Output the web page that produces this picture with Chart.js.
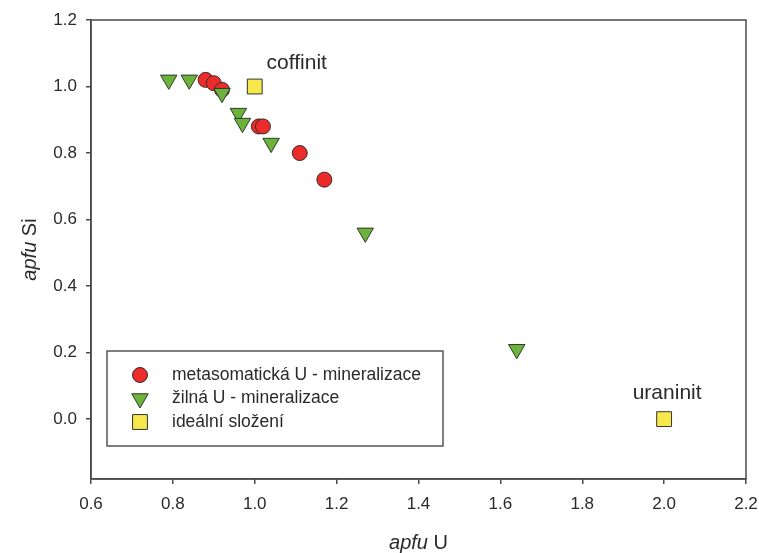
<!DOCTYPE html>
<html lang="cs">
<head>
    <meta charset="UTF-8">
    <title>apfu U vs apfu Si</title>
    <script src="https://cdn.jsdelivr.net/npm/chart.js"></script>
    <style>
        body { margin: 0; background: #fff; }
        #wrap { width: 759px; height: 553px; position: relative; }
    </style>
</head>
<body>
    <div id="wrap"><canvas id="scatterChart"></canvas></div>

    <script>
        // metasomatická U - mineralizace
        const metaU  = [0.88, 0.90, 0.92, 1.01, 1.02, 1.11, 1.17];
        const metaSi = [1.02, 1.01, 0.99, 0.88, 0.88, 0.80, 0.72];

        // žilná U - mineralizace
        const zilU  = [0.79, 0.84, 0.92, 0.96, 0.97, 1.04, 1.27, 1.64];
        const zilSi = [1.02, 1.02, 0.98, 0.92, 0.89, 0.83, 0.56, 0.21];

        // ideální složení
        const idealU     = [1.0, 2.0];
        const idealSi    = [1.0, 0.0];
        const idealNames = ['coffinit', 'uraninit'];

        const seriesNames = ['metasomatická U - mineralizace', 'žilná U - mineralizace', 'ideální složení'];

        const xTicks = [0.6, 0.8, 1.0, 1.2, 1.4, 1.6, 1.8, 2.0, 2.2];
        const yTicks = [0.0, 0.2, 0.4, 0.6, 0.8, 1.0, 1.2];

        const FONT = "'Liberation Sans', Arial, sans-serif";
        const INK = '#2a2a2a';
        const LINE = '#4a4a4a';

        function toPoints(xs, ys) {
            return xs.map((x, i) => ({ x: x, y: ys[i] }));
        }

        // frame, axis titles, labels and legend box
        const extras = {
            id: 'extras',
            afterDatasetsDraw(chart) {
                const { ctx, chartArea: a, scales } = chart;
                ctx.save();
                ctx.strokeStyle = LINE;
                ctx.lineWidth = 1.5;
                ctx.strokeRect(a.left, a.top, a.right - a.left, a.bottom - a.top);

                // point labels
                ctx.fillStyle = INK;
                ctx.font = '21px ' + FONT;
                ctx.textAlign = 'center';
                ctx.textBaseline = 'middle';
                const offsets = [[42, -23], [3, -26]];
                idealNames.forEach((name, i) => {
                    const px = scales.x.getPixelForValue(idealU[i]);
                    const py = scales.y.getPixelForValue(idealSi[i]);
                    ctx.fillText(name, px + offsets[i][0], py + offsets[i][1]);
                });

                // axis titles with italic "apfu"
                function mixedTitle(x, y, rest) {
                    ctx.font = 'italic 20px ' + FONT;
                    const w1 = ctx.measureText('apfu').width;
                    ctx.font = '20px ' + FONT;
                    const w2 = ctx.measureText(rest).width;
                    const start = x - (w1 + w2) / 2;
                    ctx.textAlign = 'left';
                    ctx.font = 'italic 20px ' + FONT;
                    ctx.fillText('apfu', start, y);
                    ctx.font = '20px ' + FONT;
                    ctx.fillText(rest, start + w1, y);
                }
                mixedTitle((a.left + a.right) / 2, 543, ' U');
                ctx.save();
                ctx.translate(30, (a.top + a.bottom) / 2);
                ctx.rotate(-Math.PI / 2);
                mixedTitle(0, 0, ' Si');
                ctx.restore();

                // legend
                const lx = 107, ly = 351, lw = 336, lh = 95;
                ctx.fillStyle = '#fff';
                ctx.fillRect(lx, ly, lw, lh);
                ctx.strokeStyle = '#555';
                ctx.lineWidth = 1.5;
                ctx.strokeRect(lx, ly, lw, lh);
                chart.data.datasets.forEach((ds, i) => {
                    const cy = ly + 24 + i * 23.5;
                    ctx.fillStyle = ds.backgroundColor;
                    ctx.strokeStyle = ds.borderColor;
                    ctx.lineWidth = 1;
                    Chart.helpers.drawPoint(ctx, {
                        pointStyle: ds.pointStyle,
                        rotation: ds.rotation || 0,
                        radius: ds.pointRadius,
                        borderWidth: 1
                    }, lx + 33, cy);
                    ctx.fillStyle = INK;
                    ctx.font = '17.5px ' + FONT;
                    ctx.textAlign = 'left';
                    ctx.fillText(ds.label, lx + 65, cy);
                });
                ctx.restore();
            }
        };

        const ctx = document.getElementById('scatterChart').getContext('2d');
        new Chart(ctx, {
            type: 'scatter',
            data: {
                datasets: [{
                    label: seriesNames[0],
                    data: toPoints(metaU, metaSi),
                    pointStyle: 'circle',
                    pointRadius: 7.5,
                    backgroundColor: '#ec2b2b',
                    borderColor: '#3a2a2a',
                    borderWidth: 1,
                    order: 3
                }, {
                    label: seriesNames[1],
                    data: toPoints(zilU, zilSi),
                    pointStyle: 'triangle',
                    rotation: 180,
                    pointRadius: 9.5,
                    backgroundColor: '#6cb33c',
                    borderColor: '#2f3a2a',
                    borderWidth: 1,
                    order: 2
                }, {
                    label: seriesNames[2],
                    data: toPoints(idealU, idealSi),
                    pointStyle: 'rect',
                    pointRadius: 10.5,
                    backgroundColor: '#f7e94b',
                    borderColor: '#333',
                    borderWidth: 1,
                    order: 1
                }]
            },
            options: {
                responsive: true,
                maintainAspectRatio: false,
                animation: false,
                layout: { padding: { top: 20, right: 13, left: 0, bottom: 0 } },
                plugins: {
                    legend: { display: false },
                    tooltip: { enabled: false }
                },
                scales: {
                    x: {
                        type: 'linear',
                        min: 0.6,
                        max: 2.2,
                        afterBuildTicks(scale) { scale.ticks = xTicks.map(v => ({ value: v })); },
                        afterFit(scale) {
                            scale.height = 74;
                            scale.paddingLeft = 0;
                            scale.paddingRight = 0;
                        },
                        grid: { drawOnChartArea: false, drawTicks: true, tickLength: 5, color: LINE, lineWidth: 1.5 },
                        border: { display: true, color: LINE, width: 1.5 },
                        ticks: {
                            color: INK,
                            padding: 10,
                            font: { family: FONT, size: 17 },
                            callback: v => v.toFixed(1)
                        }
                    },
                    y: {
                        type: 'linear',
                        min: -0.18,
                        max: 1.2,
                        afterBuildTicks(scale) { scale.ticks = yTicks.map(v => ({ value: v })); },
                        afterFit(scale) {
                            scale.width = 91;
                            scale.paddingTop = 0;
                            scale.paddingBottom = 0;
                        },
                        grid: { drawOnChartArea: false, drawTicks: true, tickLength: 5, color: LINE, lineWidth: 1.5 },
                        border: { display: true, color: LINE, width: 1.5 },
                        ticks: {
                            color: INK,
                            padding: 9,
                            font: { family: FONT, size: 17 },
                            callback: v => v.toFixed(1)
                        }
                    }
                }
            },
            plugins: [extras]
        });
    </script>
</body>
</html>
